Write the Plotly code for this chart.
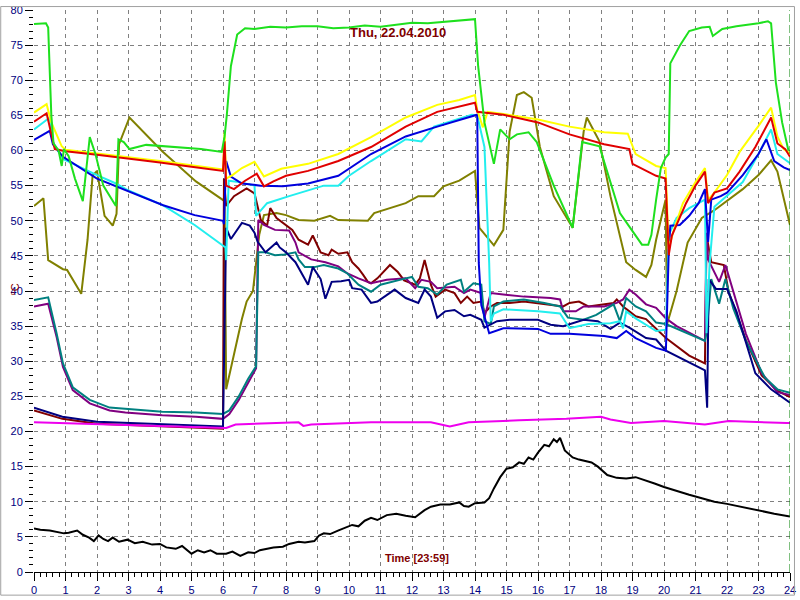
import plotly.graph_objects as go

# ---------------- data (hours, °C) ----------------
green_t = [0, 0.38, 0.45, 0.5, 0.55, 0.62, 0.78, 0.88, 0.95, 1.1, 1.3, 1.55, 1.77, 1.95, 2.2, 2.6, 2.68, 2.85, 3.03,
           3.56, 4.6, 5.3, 5.96, 6.05, 6.12, 6.25, 6.45, 6.7, 7.0, 7.5, 8.0, 8.5, 9.0, 9.5, 10.0, 10.5, 11.0, 11.5,
           12.0, 12.5, 13.0, 13.5, 13.9, 14.0, 14.1, 14.3, 14.6, 14.8, 15.1, 15.33, 15.7, 15.96, 16.5, 17.1, 17.4,
           17.95, 18.6, 19.3, 19.5, 19.6, 19.75, 19.9, 20.05, 20.15, 20.2, 20.5, 20.8, 21.2, 21.45, 21.55, 21.85,
           22.3, 23.0, 23.3, 23.4, 23.55, 23.75, 23.95]
green_v = [78.0, 78.1, 77.5, 72.0, 65.0, 61.0, 60.0, 57.8, 60.2, 59.2, 56.0, 52.8, 61.9, 59.5, 55.0, 52.1, 61.6, 61.2,
           60.2, 60.8, 60.5, 60.2, 59.8, 62.0, 65.0, 72.0, 76.5, 77.4, 77.3, 77.6, 77.5, 77.7, 77.7, 77.4, 77.5, 77.8,
           77.6, 77.9, 78.2, 78.1, 78.3, 78.4, 78.6, 78.7, 72.0, 64.0, 58.1, 63.0, 61.6, 62.3, 62.6, 61.2, 55.0, 49.0,
           61.2, 60.6, 51.1, 46.6, 46.6, 48.0, 53.0, 57.5, 59.0, 59.5, 72.4, 74.9, 77.0, 77.5, 77.6, 76.3, 77.3, 77.7,
           78.1, 78.4, 78.1, 69.7, 64.0, 60.0]

yellow_t = [0, 0.4, 0.55, 0.88, 1.0, 2, 3, 4, 5, 6.0, 6.05, 6.1, 6.3, 6.6, 7.0, 7.3, 7.85, 8.7, 9.66, 10.7, 11.8,
            12.8, 13.5, 14.0, 14.07, 14.25, 14.4, 14.9, 16.0, 17.0, 18.1, 18.85, 19.1, 19.75, 20.05, 20.15, 20.3,
            20.6, 21.0, 21.3, 21.4, 21.6, 22.0, 22.4, 23.0, 23.4, 23.6, 23.8, 24.0]
yellow_v = [65.4, 66.6, 64.0, 60.6, 60.1, 59.6, 59.1, 58.5, 57.9, 57.3, 62.6, 56.0, 56.5, 57.5, 58.4, 56.3, 57.4, 58.1,
            59.5, 61.9, 64.7, 66.5, 67.2, 67.9, 65.8, 63.3, 65.5, 65.2, 64.4, 63.4, 62.6, 62.4, 59.5, 57.8, 57.5, 46.0,
            48.5, 52.5, 55.5, 57.5, 53.0, 54.0, 56.5, 59.8, 63.5, 66.1, 62.0, 60.2, 59.6]

red_t = [0, 0.4, 0.66, 1.0, 2, 3, 4, 5, 6.0, 6.05, 6.1, 6.35, 6.7, 7.07, 7.3, 7.6, 8.0, 8.7, 9.66, 10.7, 11.8, 12.8,
         13.5, 14.0, 14.07, 14.9, 16.0, 17.0, 18.1, 18.9, 19.0, 19.75, 20.05, 20.15, 20.25, 20.5, 20.7, 21.0, 21.3,
         21.4, 21.6, 22.0, 22.4, 22.9, 23.4, 23.6, 23.85, 24.0]
red_v = [64.1, 65.3, 60.2, 59.9, 59.4, 58.9, 58.3, 57.7, 57.1, 61.3, 55.0, 54.5, 55.7, 56.7, 54.9, 55.6, 56.4, 57.1,
         58.5, 60.5, 63.4, 65.5, 66.2, 66.8, 65.5, 65.1, 64.0, 62.3, 60.9, 60.2, 58.1, 56.4, 56.0, 45.1, 47.9, 50.4,
         52.5, 55.0, 57.0, 52.5, 54.0, 54.6, 57.0, 60.5, 64.7, 61.0, 60.2, 59.1]

blue_t = [0, 0.5, 0.6, 0.92, 2.0, 3.0, 4.1, 5.1, 6.0, 6.03, 6.1, 6.25, 6.6, 7.2, 7.9, 8.7, 9.66, 10.7, 11.8, 12.8,
          14.07, 14.12, 14.2, 14.45, 14.9, 16.0, 16.4, 17.0, 18.1, 18.5, 18.8, 19.1, 19.75, 20.06, 20.15, 20.2, 20.5,
          20.8, 21.1, 21.3, 21.4, 21.5, 21.8, 22.0, 22.5, 23.0, 23.25, 23.5, 23.8, 24.0]
blue_v = [61.5, 62.8, 60.9, 59.1, 56.0, 54.2, 52.2, 50.8, 50.0, 49.5, 58.5, 56.3, 55.3, 55.0, 54.9, 55.3, 56.4, 59.5,
          62.0, 63.4, 65.1, 44.0, 38.0, 34.0, 34.7, 34.6, 33.9, 33.9, 33.6, 33.3, 34.3, 33.3, 31.9, 31.5, 45.5, 49.3,
          49.4, 50.7, 52.5, 54.5, 47.0, 53.0, 53.5, 54.0, 56.5, 59.5, 61.6, 58.5, 57.6, 57.2]

cyan_t = [0, 0.5, 0.6, 0.92, 2.0, 2.6, 3.0, 4.1, 5.1, 6.08, 6.1, 6.18, 6.5, 7.0, 7.05, 7.4, 8.1, 8.7, 9.2, 9.66, 10.0,
          10.7, 11.8, 12.3, 12.7, 13.9, 14.07, 14.3, 14.45, 14.5, 14.6, 14.9, 16.0, 16.7, 17.0, 17.6, 18.3, 18.6, 18.7,
          18.8, 19.1, 19.75, 20.06, 20.15, 20.4, 20.8, 21.3, 21.35, 21.45, 21.6, 22.0, 22.5, 23.0, 23.4, 23.6, 23.8,
          24.0]
cyan_v = [63.0, 64.7, 61.2, 58.8, 56.5, 55.3, 54.3, 52.2, 49.4, 46.2, 44.4, 55.7, 55.5, 55.0, 50.7, 52.5, 53.5, 54.3,
          55.0, 55.0, 56.4, 58.5, 61.6, 61.3, 63.4, 65.1, 65.0, 60.5, 44.0, 35.7, 36.8, 37.4, 37.1, 36.8, 34.7, 35.3,
          35.4, 35.7, 34.7, 37.1, 36.1, 34.3, 34.5, 48.0, 50.4, 51.8, 53.0, 34.0, 44.0, 52.0, 53.5, 55.5, 59.5, 63.0,
          59.5, 58.8, 58.2]

olive_t = [0, 0.3, 0.45, 0.92, 1.05, 1.5, 1.7, 1.86, 2.0, 2.24, 2.5, 2.62, 2.7, 3.03, 4.07, 5.14, 6.05, 6.1, 6.3, 6.6,
           6.75, 6.95, 7.15, 7.3, 7.7, 8.0, 8.4, 8.9, 9.4, 9.66, 10.6, 10.8, 11.8, 12.2, 12.7, 13.0, 13.5, 14.0, 14.14,
           14.6, 14.9, 15.1, 15.33, 15.55, 15.8, 16.06, 16.5, 17.1, 17.45, 17.55, 17.95, 18.3, 18.8, 19.1, 19.43, 19.6,
           19.75, 19.9, 20.05, 20.1, 20.4, 20.75, 21.2, 21.6, 21.9, 22.5, 23.0, 23.4, 23.6, 23.8, 24.0]
olive_v = [52.1, 53.2, 44.4, 43.1, 43.0, 39.6, 47.3, 56.4, 57.1, 50.7, 49.3, 51.0, 60.9, 64.7, 59.9, 55.6, 52.8, 26.0,
           30.0, 36.0, 38.5, 40.0, 48.0, 50.8, 51.1, 50.8, 50.1, 50.0, 50.7, 50.1, 50.0, 51.1, 52.5, 53.5, 53.5, 54.9,
           55.7, 57.1, 49.0, 46.5, 48.7, 62.7, 67.9, 68.3, 67.5, 60.5, 53.5, 49.0, 62.7, 64.7, 61.3, 53.5, 44.1, 43.0,
           42.0, 43.7, 47.3, 50.1, 53.0, 35.3, 40.0, 46.9, 50.4, 51.5, 52.5, 54.5, 56.5, 58.6, 57.0, 53.0, 49.4]

maroon_t = [0, 0.9, 2.0, 4.1, 6.0, 6.03, 6.1, 6.35, 6.75, 7.0, 7.2, 7.4, 7.5, 7.7, 8.2, 8.4, 8.7, 8.85, 9.1, 9.35,
            9.45, 9.66, 9.95, 10.1, 10.3, 10.45, 10.6, 10.7, 10.9, 11.3, 11.55, 11.75, 12.1, 12.25, 12.4, 12.6, 12.75,
            13.05, 13.35, 13.55, 13.75, 13.95, 14.2, 14.3, 14.5, 14.7, 15.1, 15.55, 15.95, 16.4, 16.8, 17.0, 17.3,
            17.6, 18.1, 18.4, 18.5, 18.7, 18.9, 19.1, 19.43, 19.75, 20.06, 20.8, 21.3, 21.35, 21.5, 21.9, 22.05, 22.6,
            23.1, 23.6, 24.0]
maroon_v = [23.0, 21.8, 21.1, 20.7, 20.4, 56.0, 52.1, 53.5, 54.6, 53.9, 50.1, 49.3, 51.8, 50.4, 48.7, 47.3, 46.6, 47.9,
            45.5, 45.1, 45.9, 45.3, 45.5, 44.1, 43.2, 42.3, 41.3, 41.1, 41.8, 43.7, 42.7, 41.5, 40.9, 41.8, 44.4, 40.9,
            39.2, 40.2, 39.7, 38.3, 39.2, 38.3, 38.5, 36.9, 37.8, 38.3, 38.3, 38.5, 38.3, 38.1, 37.8, 38.3, 38.5, 37.8,
            38.1, 38.3, 38.8, 37.8, 37.1, 36.4, 36.0, 34.6, 33.3, 30.8, 29.7, 47.9, 44.1, 43.7, 39.9, 33.0, 28.0, 25.8,
            24.9]

purple_t = [0, 0.45, 0.72, 0.92, 1.23, 1.77, 2.4, 2.9, 4.07, 5.14, 6.0, 6.2, 6.5, 6.8, 7.05, 7.12, 7.3, 7.65, 8.1, 8.3,
            8.4, 8.8, 9.25, 9.66, 9.95, 10.3, 10.7, 11.2, 11.8, 12.1, 12.3, 12.6, 12.8, 13.35, 13.65, 13.85, 14.2, 14.3,
            14.5, 14.9, 15.55, 16.4, 16.7, 16.8, 17.2, 17.45, 18.1, 18.5, 18.7, 18.9, 19.1, 19.43, 19.75, 20.06, 20.4,
            21.3, 21.35, 21.4, 21.75, 21.95, 22.2, 22.6, 23.1, 23.6, 24.0]
purple_v = [37.8, 38.2, 33.4, 29.2, 25.9, 24.0, 23.0, 22.7, 22.3, 22.1, 21.8, 22.5, 24.5, 27.0, 29.0, 50.1, 49.4, 48.7,
            48.6, 46.9, 45.5, 44.5, 44.1, 43.5, 42.5, 41.8, 41.1, 41.6, 41.8, 40.4, 41.6, 41.3, 40.4, 40.6, 39.7, 40.2,
            39.7, 36.2, 39.7, 39.5, 39.2, 39.0, 38.8, 37.1, 37.1, 37.8, 37.8, 38.3, 38.8, 40.2, 39.5, 38.1, 37.6, 36.1,
            35.0, 32.9, 48.3, 44.5, 41.3, 43.7, 39.9, 33.9, 28.3, 25.6, 25.2]

teal_t = [0, 0.45, 0.72, 0.92, 1.23, 1.77, 2.4, 2.9, 4.07, 5.14, 6.0, 6.2, 6.5, 6.8, 7.05, 7.12, 7.35, 7.65, 7.95, 8.3,
          8.4, 8.6, 8.9, 9.2, 9.66, 9.95, 10.3, 10.7, 11.0, 11.8, 12.0, 12.2, 12.5, 12.8, 13.1, 13.55, 13.65, 13.95,
          14.2, 14.3, 14.5, 14.6, 14.9, 15.55, 16.2, 16.7, 16.95, 17.45, 17.85, 18.4, 18.6, 18.8, 19.1, 19.43, 19.75,
          20.06, 21.3, 21.35, 21.5, 21.75, 21.95, 22.2, 22.6, 23.2, 23.6, 24.0]
teal_v = [38.7, 39.1, 33.9, 29.7, 26.3, 24.5, 23.4, 23.2, 22.8, 22.7, 22.5, 23.0, 25.0, 27.5, 29.3, 45.5, 45.5, 45.1,
          45.2, 45.5, 44.5, 43.4, 43.4, 43.7, 43.2, 42.5, 40.9, 39.9, 40.9, 41.8, 42.0, 40.6, 40.4, 39.5, 40.9, 41.6,
          39.9, 41.1, 40.9, 35.7, 35.3, 37.8, 38.5, 38.8, 38.3, 37.8, 36.2, 35.9, 36.6, 38.1, 35.7, 39.0, 37.8, 37.1,
          35.5, 35.3, 32.9, 34.0, 41.7, 38.2, 41.7, 37.5, 32.9, 27.7, 26.0, 25.5]

navy_t = [0, 0.9, 2.0, 4.1, 6.0, 6.1, 6.25, 6.6, 6.85, 7.0, 7.1, 7.35, 7.7, 7.8, 8.0, 8.3, 8.5, 8.7, 8.85, 9.1, 9.25,
          9.45, 9.75, 10.0, 10.1, 10.4, 10.7, 10.9, 11.45, 11.8, 12.2, 12.4, 12.6, 12.8, 13.05, 13.35, 13.65, 13.85,
          14.2, 14.3, 14.7, 15.1, 16.0, 16.4, 16.8, 17.45, 17.9, 18.3, 18.6, 18.9, 19.43, 19.75, 20.06, 20.6, 21.3,
          21.37, 21.42, 21.65, 22.0, 22.3, 22.9, 23.4, 24.0]
navy_v = [23.4, 22.1, 21.4, 21.0, 20.7, 49.0, 47.4, 49.7, 49.3, 48.3, 47.0, 45.5, 46.9, 46.2, 45.5, 44.1, 42.4, 40.9,
          43.4, 41.7, 38.9, 41.3, 41.4, 41.6, 40.4, 40.2, 38.3, 38.5, 40.2, 39.0, 38.3, 40.2, 39.2, 36.2, 37.1, 37.3,
          36.4, 36.6, 35.9, 34.8, 35.7, 35.9, 35.9, 35.2, 35.0, 35.9, 35.7, 34.6, 35.5, 34.8, 33.3, 33.1, 31.5, 30.3,
          28.7, 23.4, 41.7, 40.3, 40.3, 37.1, 28.3, 26.0, 24.1]

magenta_t = [0, 2.2, 4.0, 6.1, 6.4, 8.4, 8.55, 8.8, 10.7, 12.6, 13.2, 13.8, 15.4, 16.9, 18.0, 18.3, 18.95, 20.0, 21.3,
             22.05, 23.9, 24.0]
magenta_v = [21.3, 21.0, 20.8, 20.5, 21.0, 21.3, 20.8, 21.0, 21.3, 21.3, 20.7, 21.3, 21.6, 21.8, 22.1, 21.7, 21.2, 21.5,
             21.0, 21.5, 21.2, 21.2]

black_t = [0, 0.2, 0.5, 0.7, 0.95, 1.1, 1.37, 1.55, 1.75, 1.9, 2.05, 2.2, 2.35, 2.5, 2.7, 2.97, 3.2, 3.45, 3.75, 4.0,
           4.2, 4.5, 4.7, 5.0, 5.2, 5.4, 5.6, 5.8, 6.1, 6.3, 6.55, 6.8, 7.0, 7.17, 7.4, 7.6, 7.9, 8.1, 8.4, 8.6, 8.9,
           9.05, 9.2, 9.4, 9.65, 9.8, 10.1, 10.3, 10.5, 10.7, 10.9, 11.2, 11.5, 11.8, 12.1, 12.4, 12.6, 12.9, 13.2,
           13.5, 13.65, 13.8, 14.0, 14.3, 14.45, 14.6, 14.8, 15.0, 15.2, 15.4, 15.55, 15.7, 15.85, 16.0, 16.2, 16.35,
           16.5, 16.6, 16.7, 16.85, 17.1, 17.3, 17.5, 17.7, 17.9, 18.2, 18.5, 18.8, 19.1, 19.4, 19.7, 20.0, 20.4,
           20.8, 21.2, 21.6, 22.0, 22.4, 22.8, 23.1, 23.5, 24.0]
black_v = [6.2, 6.0, 5.9, 5.7, 5.5, 5.6, 5.9, 5.3, 4.9, 4.4, 5.2, 4.7, 4.4, 4.9, 4.3, 4.6, 4.1, 4.3, 3.9, 4.0, 3.5, 3.3,
           3.7, 2.6, 3.1, 2.8, 3.1, 2.6, 2.6, 2.9, 2.3, 2.8, 2.7, 3.1, 3.3, 3.5, 3.6, 4.0, 4.3, 4.2, 4.4, 5.2, 5.5, 5.4,
           5.9, 6.2, 6.7, 6.5, 7.3, 7.7, 7.4, 8.1, 8.3, 8.0, 7.8, 8.8, 9.3, 9.6, 9.6, 9.9, 9.4, 9.3, 9.8, 9.9, 10.5,
           11.9, 13.5, 14.7, 14.9, 15.6, 15.4, 16.3, 16.0, 17.0, 18.1, 17.9, 18.9, 18.5, 19.1, 17.3, 16.3, 16.0, 15.8,
           15.6, 15.0, 13.8, 13.4, 13.3, 13.5, 13.1, 12.6, 12.1, 11.5, 11.0, 10.5, 10.0, 9.7, 9.3, 9.0, 8.6, 8.3, 7.9]

x_ticks = list(range(0, 25))
y_ticks = list(range(0, 81, 5))
title_text = "Thu, 22.04.2010"
x_label = "Time [23:59]"
y_label = "°C"

# ---------------- figure ----------------
series = [
    (olive_t, olive_v, "#808000"),
    (maroon_t, maroon_v, "#800000"),
    (purple_t, purple_v, "#800080"),
    (teal_t, teal_v, "#008080"),
    (navy_t, navy_v, "#000080"),
    (cyan_t, cyan_v, "#22EEEE"),
    (blue_t, blue_v, "#0000DD"),
    (yellow_t, yellow_v, "#FFFF00"),
    (red_t, red_v, "#E00000"),
    (green_t, green_v, "#1EE01E"),
    (magenta_t, magenta_v, "#EE00EE"),
    (black_t, black_v, "#000000"),
]

fig = go.Figure()
for t, v, c in series:
    fig.add_trace(go.Scatter(x=t, y=v, mode="lines", line=dict(color=c, width=2), hoverinfo="skip"))

L, R, T, B = 34, 5, 4, 25
W, H = 800, 600
pw, ph = W - L - R, H - T - B

tickfont = dict(family="Liberation Sans, Arial, sans-serif", size=11, color="#000080")
fig.update_layout(
    width=W, height=H,
    margin=dict(l=L, r=R, t=T, b=B, pad=0),
    plot_bgcolor="white", paper_bgcolor="white",
    showlegend=False,
    hovermode=False,
    xaxis=dict(range=[0, 24], tickmode="array", tickvals=x_ticks, ticktext=[str(x) for x in x_ticks],
               showgrid=True, gridcolor="#808080", griddash="4px,4px", gridwidth=1,
               ticks="outside", ticklen=8, tickcolor="black", tickwidth=1, ticklabeloverflow="allow",
               showline=True, linecolor="black", linewidth=1, zeroline=False, tickfont=tickfont,
               minor=dict(dtick=0.2, tick0=0, ticks="outside", ticklen=4, tickcolor="black", showgrid=False)),
    yaxis=dict(range=[0, 80], tickmode="array", tickvals=y_ticks, ticktext=[str(y) for y in y_ticks],
               showgrid=True, gridcolor="#808080", griddash="4px,4px", gridwidth=1,
               ticks="outside", ticklen=8, tickcolor="black", tickwidth=1, ticklabeloverflow="allow",
               showline=False, zeroline=False, tickfont=tickfont,
               minor=dict(dtick=1, tick0=0, ticks="outside", ticklen=4, tickcolor="black", showgrid=False)),
)

# current-time marker at 24
fig.add_shape(type="line", xref="x", yref="paper", x0=24, x1=24, y0=0, y1=1,
              line=dict(color="#008000", width=1, dash="8px,3px"))
# outer frame
fig.add_shape(type="rect", xref="paper", yref="paper",
              x0=(0.5 - L) / pw, x1=(W - 0.5 - L) / pw, y0=(H - B - (H - 1.5)) / ph, y1=(H - B - 0.5) / ph,
              line=dict(color="#A0A0A0", width=1))

fig.add_annotation(text="<b>" + title_text + "</b>", xref="paper", yref="paper",
                   x=(400 - L) / pw, y=(H - B - 17) / ph, showarrow=False,
                   font=dict(family="Liberation Sans, Arial, sans-serif", size=13, color="#800000"))
fig.add_annotation(text="<b>" + x_label + "</b>", xref="paper", yref="paper",
                   x=(420 - L) / pw, y=(H - B - 569) / ph, showarrow=False,
                   font=dict(family="Liberation Sans, Arial, sans-serif", size=11, color="#800000"))
fig.add_annotation(text=y_label, xref="paper", yref="paper", textangle=-90,
                   x=(6 - L) / pw, y=(H - B - 288) / ph, showarrow=False,
                   font=dict(family="Liberation Sans, Arial, sans-serif", size=11, color="#800000"))

fig.write_html("out.html", config={"displayModeBar": False, "staticPlot": True},
               post_script="document.body.style.margin='0px';document.body.style.overflow='hidden';")
